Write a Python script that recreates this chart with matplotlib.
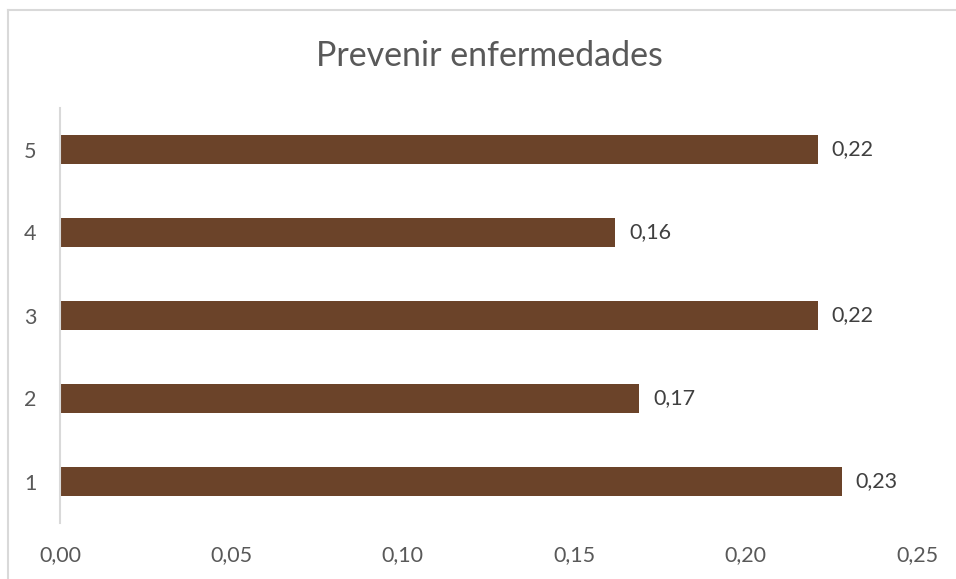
import matplotlib
matplotlib.use("Agg")
import matplotlib.pyplot as plt
from matplotlib.lines import Line2D
from matplotlib.ticker import FuncFormatter

plt.rcParams['font.family'] = ['Lato', 'DejaVu Sans']

title = "Prevenir enfermedades"
categories = ["1", "2", "3", "4", "5"]
values = [0.228, 0.169, 0.221, 0.162, 0.221]
x_ticks = [0.00, 0.05, 0.10, 0.15, 0.20, 0.25]

bar_color = "#6B4329"
axis_text = "#595959"
label_text = "#404040"
border = "#D9D9D9"

fig = plt.figure(figsize=(9.56, 5.79), dpi=100)
fig.patch.set_facecolor("white")

# chart-area border (top and left edges)
W, H = 956, 579
fig.add_artist(Line2D([8 / W, 1], [1 - 9.5 / H, 1 - 9.5 / H],
                      transform=fig.transFigure, color=border, linewidth=1.5))
fig.add_artist(Line2D([8 / W, 8 / W], [0, 1 - 9.5 / H],
                      transform=fig.transFigure, color=border, linewidth=1.5))

ax = fig.add_axes([60 / W, 1 - 523 / H, (917 - 60) / W, (523 - 108) / H])
ypos = list(range(len(categories)))
ax.barh(ypos, values, height=0.35, color=bar_color)
ax.set_xlim(0, 0.25)
ax.set_ylim(-0.5, len(categories) - 0.5)

ax.set_yticks(ypos)
ax.set_yticklabels(categories)
ax.set_xticks(x_ticks)
ax.xaxis.set_major_formatter(FuncFormatter(lambda v, p: f"{v:.2f}".replace(".", ",")))

for s in ["top", "right", "bottom"]:
    ax.spines[s].set_visible(False)
ax.spines["left"].set_color(border)
ax.spines["left"].set_linewidth(1.5)

ax.tick_params(axis="both", length=0, colors=axis_text, labelsize=15.5)
ax.tick_params(axis="y", pad=17)
ax.tick_params(axis="x", pad=16)

for y, v in zip(ypos, values):
    ax.text(v + 0.004, y, f"{v:.2f}".replace(".", ","), va="center", ha="left",
            fontsize=15.5, color=label_text)

fig.text(489 / W, 1 - 56 / H, title, ha="center", va="center",
         fontsize=24.5, color=axis_text)

fig.savefig("out.png", dpi=100, facecolor="white")
